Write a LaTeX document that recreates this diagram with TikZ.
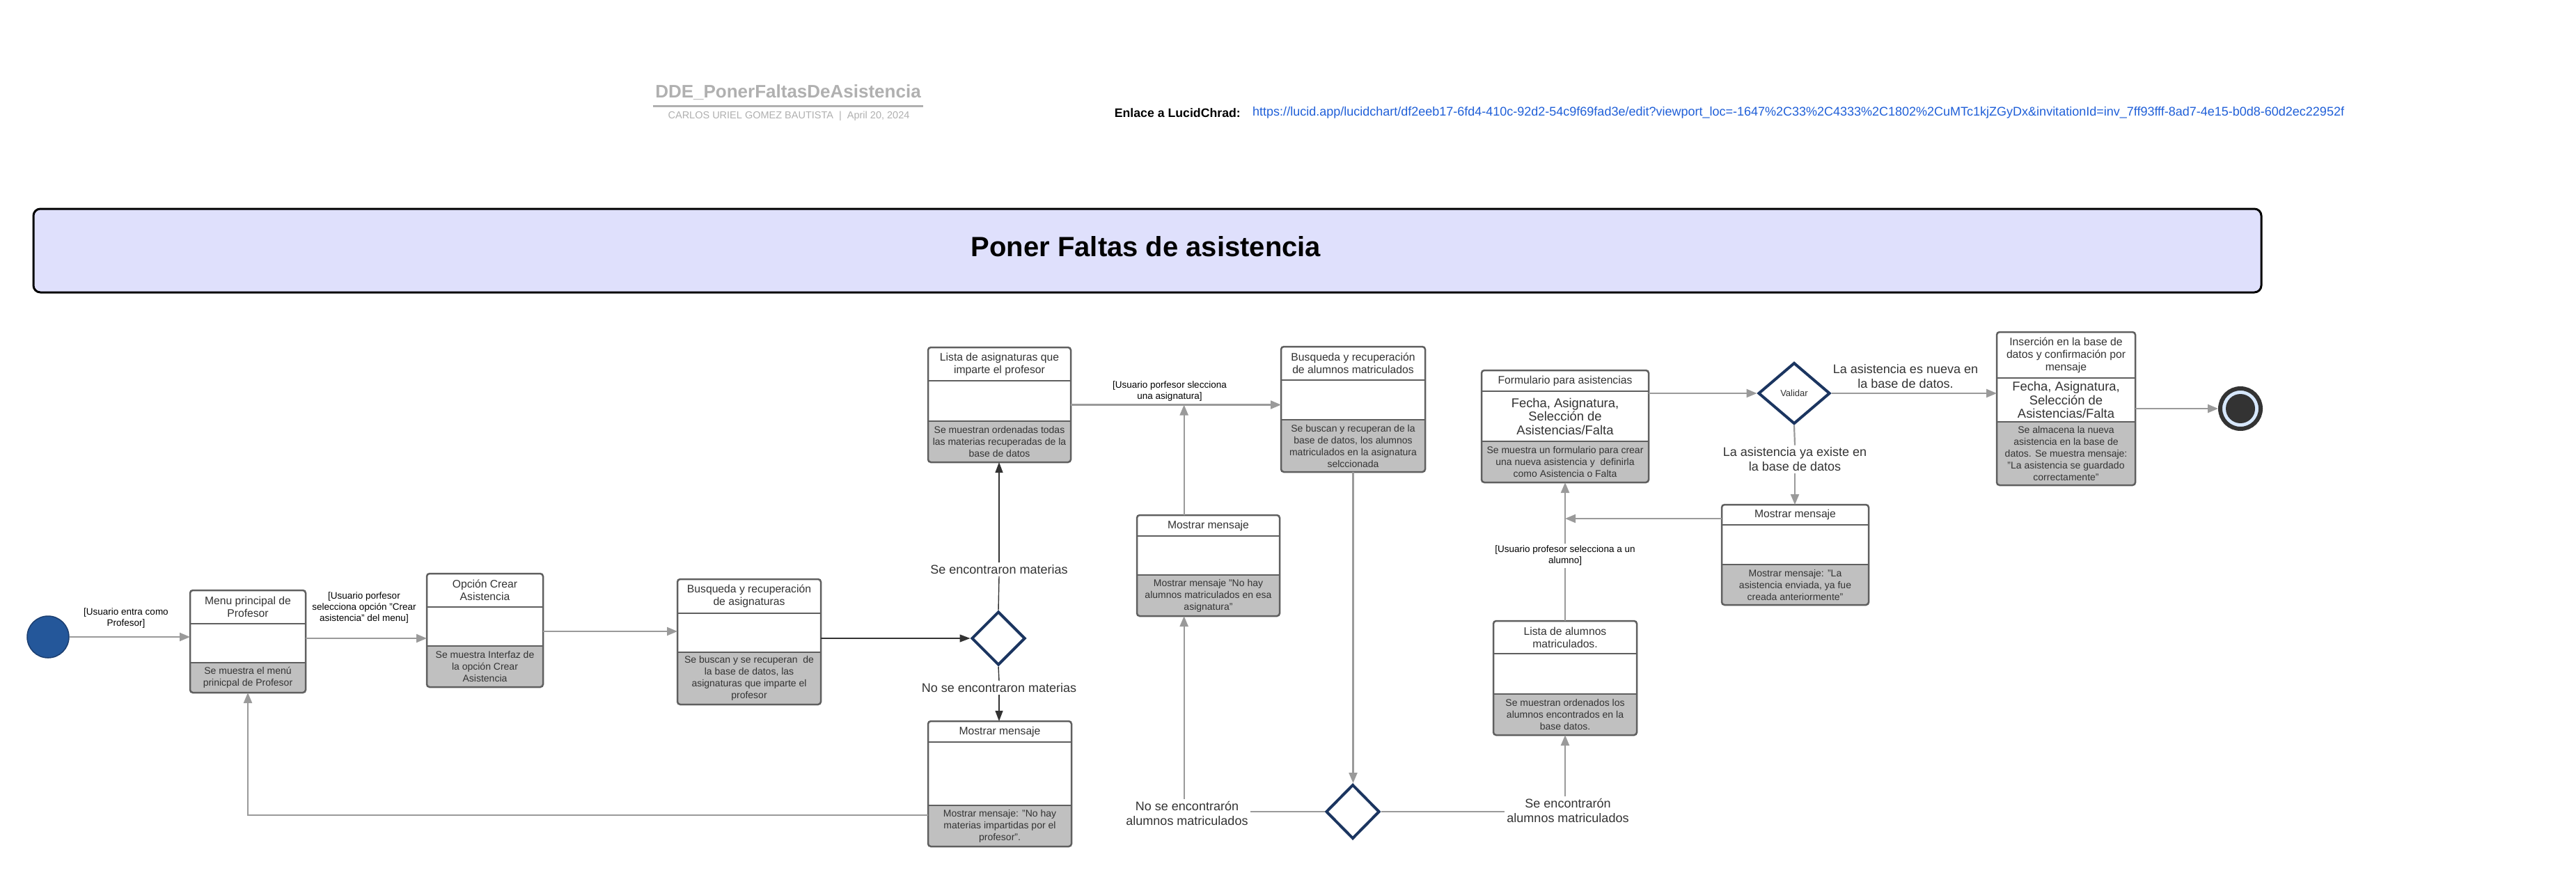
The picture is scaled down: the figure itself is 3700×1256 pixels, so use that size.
\documentclass[tikz,border=0pt]{standalone}
\usepackage{fontspec}
\setmainfont{Liberation Sans}
\usetikzlibrary{arrows.meta,shapes.geometric,calc}
\definecolor{boxline}{HTML}{5F5F5F}
\definecolor{secgray}{HTML}{C0C0C0}
\definecolor{arrgray}{HTML}{9A9A9A}
\definecolor{txt}{HTML}{333333}
\definecolor{navy}{HTML}{1B3560}
\definecolor{bannerfill}{HTML}{DFE0FC}
\definecolor{hdrgray}{HTML}{B0B0B0}
\definecolor{linkblue}{HTML}{1F5FD8}
\definecolor{initblue}{HTML}{24579A}
\definecolor{initborder}{HTML}{1B3E70}
\definecolor{endring}{HTML}{D7E8FE}
\definecolor{enddark}{HTML}{333333}
\tikzset{
 x=1pt, y=-1pt,
 stframe/.style={draw=boxline, line width=2.5pt, rounded corners=4pt, rectangle, inner sep=0pt, outer sep=0pt, anchor=north west},
 divline/.style={draw=boxline, line width=2.5pt},
 ttext/.style={text=txt, align=center, font=\fontsize{15.7}{18}\selectfont, inner sep=0pt},
 gtext/.style={text=txt, align=center, font=\fontsize{14}{17}\selectfont, inner sep=0pt},
 mtext/.style={text=txt, align=center, font=\fontsize{18.4}{19.5}\selectfont, inner sep=0pt},
 blabel/.style={text=black, align=center, font=\fontsize{13.5}{16}\selectfont, inner sep=3pt},
 biglabel/.style={text=txt, align=center, font=\fontsize{18}{21}\selectfont, inner sep=3pt},
 garrow/.style={draw=arrgray, line width=2.2pt, -{Triangle[length=15pt,width=12pt]}},
 gline/.style={draw=arrgray, line width=2.2pt},
 karrow/.style={draw=txt, line width=1.4pt, -{Triangle[length=15pt,width=11pt]}},
 kline/.style={draw=txt, line width=1.4pt},
 decision/.style={diamond, draw=navy, line width=4pt, fill=white, inner sep=0pt},
}
% #1 name, #2 x1, #3 top, #4 x2, #5 bottom, #6 divider1, #7 divider2, #8 title, #9 gray text
\newcommand\stbox[9]{%
 \fill[secgray, rounded corners=4pt] (#2,#7) rectangle (#4,#5);
 \fill[secgray] (#2,#7) rectangle (#4,#7+10);
 \pgfmathsetmacro\stbw{#4-#2}\pgfmathsetmacro\stbh{#5-#3}
 \node[stframe, minimum width=\stbw pt, minimum height=\stbh pt] (#1) at (#2,#3) {};
 \draw[divline] (#2,#6) -- (#4,#6) (#2,#7) -- (#4,#7);
 \node[ttext] (#1-t) at ($(#2,#3)!0.5!(#4,#6)$) {#8};
 \node[gtext] (#1-g) at ($(#2,#7)!0.5!(#4,#5)$) {#9};
}
\begin{document}
\begin{tikzpicture}
\useasboundingbox (0,0) rectangle (3700,1256);
\fill[white] (0,0) rectangle (3700,1256);

% header
\node[font=\bfseries\fontsize{26}{30}\selectfont, text=hdrgray] (hdr) at (1132,133) {DDE\_PonerFaltasDeAsistencia};
\draw[hdrgray, line width=3pt] (hdr.west |- 0,152) -- (hdr.east |- 0,152);
\node[font=\fontsize{14.5}{17}\selectfont, text=hdrgray] (sub) at (1133,167) {CARLOS URIEL GOMEZ BAUTISTA\ \ |\ \ April 20, 2024};
\node[font=\bfseries\fontsize{17.7}{20}\selectfont, anchor=east, inner sep=0pt] (lnk) at (1782,162) {Enlace a LucidChrad:};
\node[font=\fontsize{18}{20}\selectfont, text=linkblue, anchor=west, inner sep=0pt] (url) at (1799,162) {https://lucid.app/lucidchart/df2eeb17-6fd4-410c-92d2-54c9f69fad3e/edit?viewport\_loc=-1647\%2C33\%2C4333\%2C1802\%2CuMTc1kjZGyDx\&invitationId=inv\_7ff93fff-8ad7-4e15-b0d8-60d2ec22952f};

% banner
\node[draw=black, line width=3pt, fill=bannerfill, rounded corners=10pt, minimum width=3200pt, minimum height=120pt, inner sep=0pt] (banner) at (1648,360) {};
\node[font=\bfseries\fontsize{40}{48}\selectfont, text=black] (bt) at (1646,354) {Poner Faltas de asistencia};

% state boxes
\stbox{menu}{273}{848}{439}{995}{896}{952}{Menu principal de\\Profesor}{Se muestra el menú\\prinicpal de Profesor}
\stbox{opc}{613}{824}{780}{987}{872}{928}{Opción Crear\\Asistencia}{Se muestra Interfaz de\\la opción Crear\\Asistencia}
\stbox{busa}{973}{832}{1179}{1012}{881}{937}{Busqueda y recuperación\\de asignaturas}{Se buscan y se recuperan\ \ de\\la base de datos, las\\asignaturas que imparte el\\profesor}
\stbox{lista}{1333}{499}{1538}{664}{547}{605}{Lista de asignaturas que\\imparte el profesor}{Se muestran ordenadas todas\\las materias recuperadas de la\\base de datos}
\stbox{mmat}{1333}{1036}{1539}{1216}{1066}{1157}{Mostrar mensaje}{Mostrar mensaje: "No hay\\materias impartidas por el\\profesor".}
\stbox{busal}{1840}{498}{2047}{678}{546}{603}{Busqueda y recuperación\\de alumnos matriculados}{Se buscan y recuperan de la\\base de datos, los alumnos\\matriculados en la asignatura\\selccionada}
\stbox{mmal}{1633}{740}{1838}{885}{770}{826}{Mostrar mensaje}{Mostrar mensaje "No hay\\alumnos matriculados en esa\\asignatura"}
\stbox{form}{2128}{532}{2368}{693}{562}{634}{Formulario para asistencias}{Se muestra un formulario para crear\\una nueva asistencia y\ \ definirla\\como Asistencia o Falta}
\node[mtext] (form-m) at ($(2128,562)!0.5!(2368,634)$) {Fecha, Asignatura,\\Selección de\\Asistencias/Falta};
\stbox{lal}{2145}{892}{2351}{1056}{939}{997}{Lista de alumnos\\matriculados.}{Se muestran ordenados los\\alumnos encontrados en la\\base datos.}
\stbox{mval}{2473}{725}{2684}{869}{754}{811}{Mostrar mensaje}{Mostrar mensaje: "La\\asistencia enviada, ya fue\\creada anteriormente"}
\stbox{ins}{2868}{477}{3067}{697}{543}{606}{Inserción en la base de\\datos y confirmación por\\mensaje}{Se almacena la nueva\\asistencia en la base de\\datos. Se muestra mensaje:\\"La asistencia se guardado\\correctamente"}
\node[mtext] (ins-m) at ($(2868,543)!0.5!(3067,606)$) {Fecha, Asignatura,\\Selección de\\Asistencias/Falta};

% initial and final nodes
\node[circle, fill=initblue, draw=initborder, line width=1.5pt, minimum size=60pt, inner sep=0pt] (init) at (69,915) {};
\node[circle, draw=enddark, line width=6pt, fill=endring, minimum size=58pt, inner sep=0pt] (fin) at (3218,587) {};
\fill[enddark] (fin.center) circle (21pt);

% decisions
\node[decision, minimum width=77pt, minimum height=77pt] (d1) at (1434,917) {};
\node[decision, minimum width=77pt, minimum height=78pt] (d2) at (1943,1166) {};
\node[decision, minimum width=103pt, minimum height=88pt, text=txt, font=\fontsize{13}{15}\selectfont] (val) at (2577,565) {Validar};

% connectors
\draw[garrow] (init.east) -- (init.east -| menu.west);
\node[blabel] (l1) at (181,888) {[Usuario entra como\\Profesor]};
\draw[garrow] (menu.east |- 0,917) -- (opc.west |- 0,917);
\node[blabel] (l2) at (523,873) {[Usuario porfesor\\selecciona opción "Crear\\asistencia" del menu]};
\draw[garrow] (opc.east |- 0,907) -- (busa.west |- 0,907);
\draw[karrow] (busa.east |- d1.west) -- (d1.west);
\node[biglabel] (lse) at (1435,818) {Se encontraron materias};
\draw[kline] (d1.north) -- (lse.south);
\draw[karrow] (lse.north) -- (lse.north |- lista.south);
\node[biglabel] (lno) at (1435,988) {No se encontraron materias};
\draw[kline] (d1.south) -- (lno.north);
\draw[karrow] (lno.south) -- (lno.south |- mmat.north);
\draw[garrow] (mmat.west |- 0,1171) -| (menu.south);

\draw[garrow] (lista.east) -- (lista.east -| busal.west);
\node[blabel] (l3) at (1680,562) {[Usuario porfesor slecciona\\una asignatura]};
\coordinate (mmaltop) at ($(mmal.north west)!0.33!(mmal.north east)$);
\coordinate (mmalbot) at ($(mmal.south west)!0.33!(mmal.south east)$);
\draw[garrow] (mmaltop) -- (mmaltop |- lista.east);

\draw[garrow] (busal.south) -- (busal.south |- d2.north);
\node[biglabel] (lnoal) at (1705,1168) {No se encontrarón\\alumnos matriculados};
\draw[gline] (d2.west) -- (d2.west -| lnoal.east);
\draw[garrow] (mmalbot |- lnoal.north) -- (mmalbot);
\node[biglabel] (lsial) at (2252,1164) {Se encontrarón\\alumnos matriculados};
\draw[gline] (d2.east) -- (d2.east -| lsial.west);
\draw[garrow] (lal.south |- lsial.north) -- (lal.south);

\node[blabel] (l4) at (2248,798) {[Usuario profesor selecciona a un\\alumno]};
\draw[gline] (lal.north) -- (l4.south);
\draw[garrow] (l4.north) -- (l4.north |- form.south);
\draw[garrow] (mval.west |- 0,745) -- (form.south |- 0,745);

\draw[garrow] (form.east |- val.west) -- (val.west);
\draw[garrow] (val.east) -- (val.east -| ins.west);
\node[biglabel] (lnew) at (2737,541) {La asistencia es nueva en\\la base de datos.};
\node[biglabel] (lex) at (2578,660) {La asistencia ya existe en\\la base de datos};
\draw[gline] (val.south) -- (lex.north);
\draw[garrow] (lex.south) -- (lex.south |- mval.north);
\draw[garrow] (ins.east |- fin.west) -- (fin.west);
\end{tikzpicture}
\end{document}
